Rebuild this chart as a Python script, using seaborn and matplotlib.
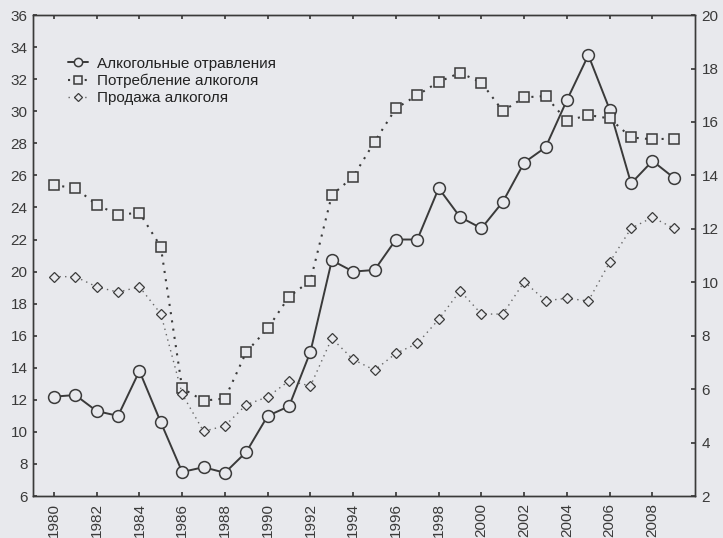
import matplotlib
matplotlib.use('Agg')
import matplotlib.pyplot as plt
import seaborn as sns
import pandas as pd

years = list(range(1980, 2010))

# left axis: alcohol poisonings
poisoning = [12.2, 12.3, 11.3, 11.0, 13.8, 10.6, 7.5, 7.8, 7.45, 8.75,
             11.0, 11.6, 15.0, 20.7, 20.0, 20.1, 22.0, 22.0, 25.2, 23.4,
             22.7, 24.35, 26.8, 27.75, 30.7, 33.5, 30.1, 25.5, 26.9, 25.85]
# right axis: consumption and sales
consumption = [13.63, 13.53, 12.9, 12.53, 12.6, 11.33, 6.03, 5.57, 5.65, 7.39,
               8.27, 9.46, 10.06, 13.26, 13.95, 15.26, 16.51, 17.0, 17.5, 17.84,
               17.47, 16.41, 16.92, 16.97, 16.04, 16.26, 16.13, 15.42, 15.35, 15.38]
sales = [10.21, 10.21, 9.83, 9.63, 9.83, 8.82, 5.82, 4.42, 4.63, 5.42,
         5.71, 6.31, 6.12, 7.9, 7.11, 6.71, 7.34, 7.71, 8.61, 9.68,
         8.81, 8.81, 10.02, 9.31, 9.4, 9.3, 10.75, 12.02, 12.43, 12.02]

labels = ['Алкогольные отравления', 'Потребление алкоголя', 'Продажа алкоголя']

df_left = pd.DataFrame({'year': years, 'value': poisoning})
df_cons = pd.DataFrame({'year': years, 'value': consumption})
df_sales = pd.DataFrame({'year': years, 'value': sales})

bg = '#e8e9ed'
ink = '#3a3a3a'

sns.set_theme(style='ticks')
plt.rcParams['font.family'] = ['Liberation Sans', 'DejaVu Sans']
plt.rcParams['axes.edgecolor'] = ink
plt.rcParams['xtick.color'] = ink
plt.rcParams['ytick.color'] = ink

fig = plt.figure(figsize=(7.23, 5.38), dpi=100, facecolor=bg)
ax = fig.add_axes([0.0456, 0.078, 0.9154, 0.894])
ax.set_facecolor(bg)
ax2 = ax.twinx()

sns.lineplot(ax=ax, data=df_left, x='year', y='value', color=ink, lw=1.4,
             marker='o', markersize=8.5, markerfacecolor=bg, markeredgecolor=ink,
             markeredgewidth=1.1, label=labels[0], legend=False)
sns.lineplot(ax=ax2, data=df_cons, x='year', y='value', color=ink, lw=1.5,
             linestyle=(0, (1, 3)), marker='s', markersize=7.5, markerfacecolor=bg,
             markeredgecolor=ink, markeredgewidth=1.1, label=labels[1], legend=False)
sns.lineplot(ax=ax2, data=df_sales, x='year', y='value', color='#666666', lw=1.0,
             linestyle=(0, (1, 3)), marker='D', markersize=5.5, markerfacecolor=bg,
             markeredgecolor=ink, markeredgewidth=0.9, label=labels[2], legend=False)

ax.set_xlim(1979.02, 2009.98)
ax.set_ylim(6, 36)
ax2.set_ylim(2, 20)
ax.set_xticks(range(1980, 2010, 2))
ax.set_xticklabels([str(y) for y in range(1980, 2010, 2)], rotation=90)
ax.set_yticks(range(6, 37, 2))
ax2.set_yticks(range(2, 21, 2))
ax.set_xlabel('')
ax.set_ylabel('')
ax2.set_ylabel('')

for a in (ax, ax2):
    for s in a.spines.values():
        s.set_visible(True)
        s.set_color(ink)
        s.set_linewidth(1.0)
ax.tick_params(axis='both', direction='in', length=3, labelsize=11, pad=4,
               top=True, labeltop=False)
ax.tick_params(axis='x', pad=5)
ax2.tick_params(axis='y', direction='in', length=3, labelsize=11, pad=5)

h1, l1 = ax.get_legend_handles_labels()
h2, l2 = ax2.get_legend_handles_labels()
leg = ax.legend(h1 + h2, l1 + l2, loc='upper left', bbox_to_anchor=(0.032, 0.942),
                frameon=False, fontsize=11, handlelength=1.3, handletextpad=0.6,
                labelspacing=0.2, markerscale=0.7)
for t in leg.get_texts():
    t.set_color('#222222')

fig.savefig('out.png', dpi=100, facecolor=bg)
